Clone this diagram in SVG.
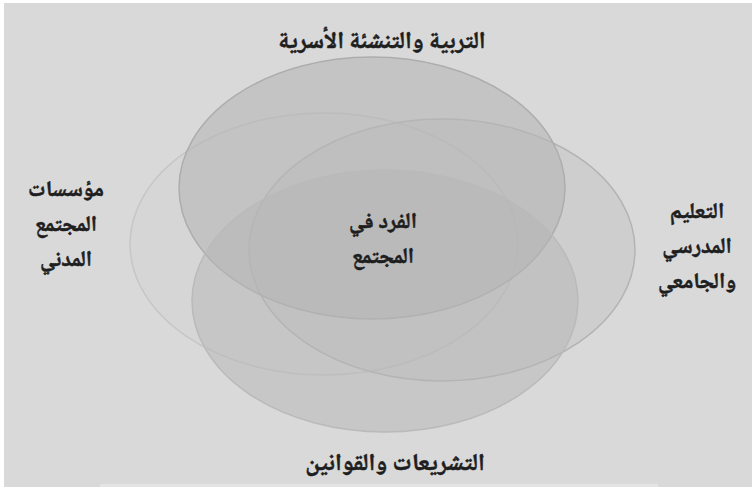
<svg xmlns="http://www.w3.org/2000/svg" width="752" height="487" viewBox="0 0 752 487">
<style>
.lbl{font-family:"Noto Naskh Arabic","Amiri","DejaVu Sans",sans-serif;font-weight:bold;font-size:22px;fill:#1e1e1e;stroke:#1e1e1e;stroke-width:0.5;text-anchor:middle}
.big{font-size:24px}
.ell{fill:#b5b5b5}
</style>
<rect x="0" y="0" width="752" height="487" fill="#ffffff"/>
<rect x="4" y="3" width="748" height="484" fill="#d9d9d9"/>
<rect x="100" y="484" width="558" height="3" fill="#e4e4e4"/>
<g id="shapes">
<g id="left-circle"><ellipse class="ell" cx="324" cy="244" rx="194" ry="131" fill-opacity="0.08" stroke="#c6c6c6" stroke-width="1.5"/></g>
<g id="right-circle"><ellipse class="ell" cx="442" cy="250" rx="193" ry="131" fill-opacity="0.28" stroke="#b3b3b3" stroke-width="1.5"/></g>
<g id="top-circle"><ellipse class="ell" cx="372" cy="188" rx="193" ry="131" fill-opacity="0.6" stroke="#adadad" stroke-width="1.5"/></g>
<g id="bottom-circle"><ellipse class="ell" cx="385" cy="301" rx="193" ry="131" fill-opacity="0.5" stroke="#bababa" stroke-width="1.5"/></g>
</g>
<g id="labels">
<g id="top-label"><text class="lbl big" x="382" y="48">التربية والتنشئة الأسرية</text></g>
<g id="bottom-label"><text class="lbl big" x="395" y="470">التشريعات والقوانين</text></g>
<g id="left-label"><text class="lbl" x="66" y="196">مؤسسات</text><text class="lbl" x="66" y="231">المجتمع</text><text class="lbl" x="66" y="266">المدني</text></g>
<g id="right-label"><text class="lbl" x="697" y="218">التعليم</text><text class="lbl" x="697" y="253">المدرسي</text><text class="lbl" x="697" y="288">والجامعي</text></g>
<g id="center-label"><text class="lbl" x="383" y="228">الفرد في</text><text class="lbl" x="383" y="263">المجتمع</text></g>
</g>
</svg>
